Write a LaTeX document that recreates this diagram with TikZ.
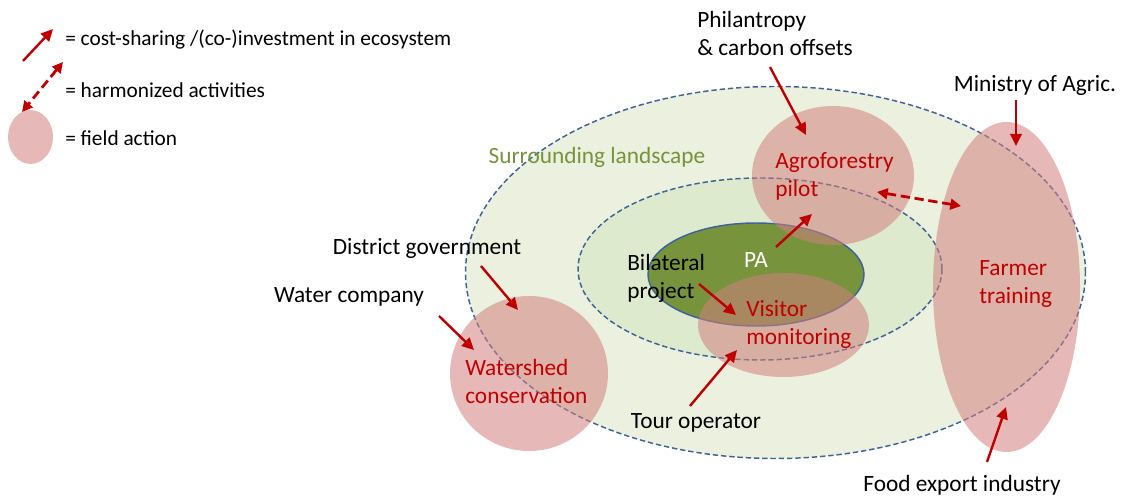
\documentclass[tikz,border=0pt]{standalone}
\usepackage{fontspec}
\setmainfont{Carlito}
\usetikzlibrary{shapes.geometric, arrows.meta, positioning}

\definecolor{arrowred}{HTML}{C00000}
\definecolor{leafgreen}{HTML}{77933C}
\definecolor{landfill}{HTML}{EBF1DE}
\definecolor{bufferfill}{HTML}{DEEACE}
\definecolor{zoneblue}{HTML}{3F6399}
\definecolor{fieldpink}{HTML}{D2807E}

\begin{document}
\begin{tikzpicture}[x=0.75pt, y=-0.75pt,
	zone/.style={ellipse, inner sep=0pt, draw=zoneblue, line width=1.1pt, dash pattern=on 4pt off 2.2pt},
	field/.style={ellipse, inner sep=0pt, fill=fieldpink, fill opacity=0.55},
	lbl/.style={font=\fontsize{17.5}{21}\selectfont, inner sep=0pt, align=left},
	redlbl/.style={lbl, text=arrowred},
	leglbl/.style={lbl, font=\fontsize{16}{19}\selectfont, anchor=west},
	cost/.style={draw=arrowred, line width=1.8pt, -{Triangle[length=9pt,width=8.5pt]}},
	harmon/.style={cost, line width=2.1pt, {Triangle[length=8pt,width=8pt]}-{Triangle[length=8pt,width=8pt]}, dash pattern=on 7pt off 3.5pt}]
	\useasboundingbox (0,0) rectangle (1122,498);

	% zones
	\node[zone, fill=landfill, minimum width=465pt, minimum height=279pt] (landscape) at (775.5,272.5) {};
	\node[zone, fill=bufferfill, minimum width=273pt, minimum height=136.5pt] (buffer) at (760,269) {};
	\node[ellipse, inner sep=0pt, fill=leafgreen, draw=zoneblue, line width=1.1pt, minimum width=162pt, minimum height=77.25pt] (pa) at (756,274.5) {};

	% field actions
	\node[field, minimum width=121.5pt, minimum height=104.25pt] (agro) at (833,175.5) {};
	\node[field, minimum width=128.25pt, minimum height=78pt] (visitor) at (783.5,325) {};
	\node[field, minimum width=110.25pt, minimum height=247.5pt] (farmer) at (1006.5,287) {};
	\node[field, minimum width=118.5pt, minimum height=116.25pt] (watershed) at (529,373.5) {};
	\node[field, minimum width=33.75pt, minimum height=40.5pt] (legcircle) at (30.5,137) {};

	% labels
	\node[lbl, text=leafgreen] (landlbl) at (597,157) {Surrounding landscape};
	\node[lbl, text=white] (palbl) at (756,260) {PA};
	\node[redlbl, anchor=west] (agrolbl) at (775,176.5) {Agroforestry\\pilot};
	\node[redlbl, anchor=west] (visitlbl) at (746,324) {Visitor\\monitoring};
	\node[redlbl, anchor=west] (farmlbl) at (979,284) {Farmer\\training};
	\node[redlbl, anchor=west] (waterlbl) at (465,381) {Watershed\\conservation};

	\node[lbl, anchor=west] (phil) at (697,33) {Philantropy\\\& carbon offsets};
	\node[lbl] (ministry) at (1035,85) {Ministry of Agric.};
	\node[lbl] (district) at (427,248) {District government};
	\node[lbl] (watercomp) at (349,297) {Water company};
	\node[lbl, anchor=west] (bilateral) at (627,278.5) {Bilateral\\project};
	\node[lbl] (tour) at (696,423) {Tour operator};
	\node[lbl] (food) at (962,485) {Food export industry};

	% legend
	\node[leglbl] (legcost) at (65,40) {= cost-sharing /(co-)investment in ecosystem};
	\node[leglbl] (legharm) at (65,90) {= harmonized activities};
	\node[leglbl] (legfield) at (65,138) {= field action};

	% arrow ends
	\coordinate (c1) at (23,61);   \coordinate (c2) at (53,29);
	\coordinate (h1) at (63,62);   \coordinate (h2) at (22,112);
	\coordinate (p1) at (770,67);  \coordinate (p2) at (806,135);
	\coordinate (m1) at (1016,100); \coordinate (m2) at (1016,146);
	\coordinate (a1) at (877,192); \coordinate (a2) at (961,206);
	\coordinate (g1) at (776,247); \coordinate (g2) at (812,214);
	\coordinate (b1) at (699,284); \coordinate (b2) at (736,315);
	\coordinate (t1) at (690,406); \coordinate (t2) at (737,350);
	\coordinate (f1) at (987,462); \coordinate (f2) at (1006,407);
	\coordinate (d1) at (481,266); \coordinate (d2) at (518,310);
	\coordinate (w1) at (439,316); \coordinate (w2) at (474,350);

	\draw[cost] (c1) -- (c2);
	\draw[harmon] (h1) -- (h2);
	\draw[cost] (p1) -- (p2);
	\draw[cost] (m1) -- (m2);
	\draw[harmon] (a1) -- (a2);
	\draw[cost] (g1) -- (g2);
	\draw[cost] (b1) -- (b2);
	\draw[cost] (t1) -- (t2);
	\draw[cost] (f1) -- (f2);
	\draw[cost] (d1) -- (d2);
	\draw[cost] (w1) -- (w2);
\end{tikzpicture}
\end{document}
